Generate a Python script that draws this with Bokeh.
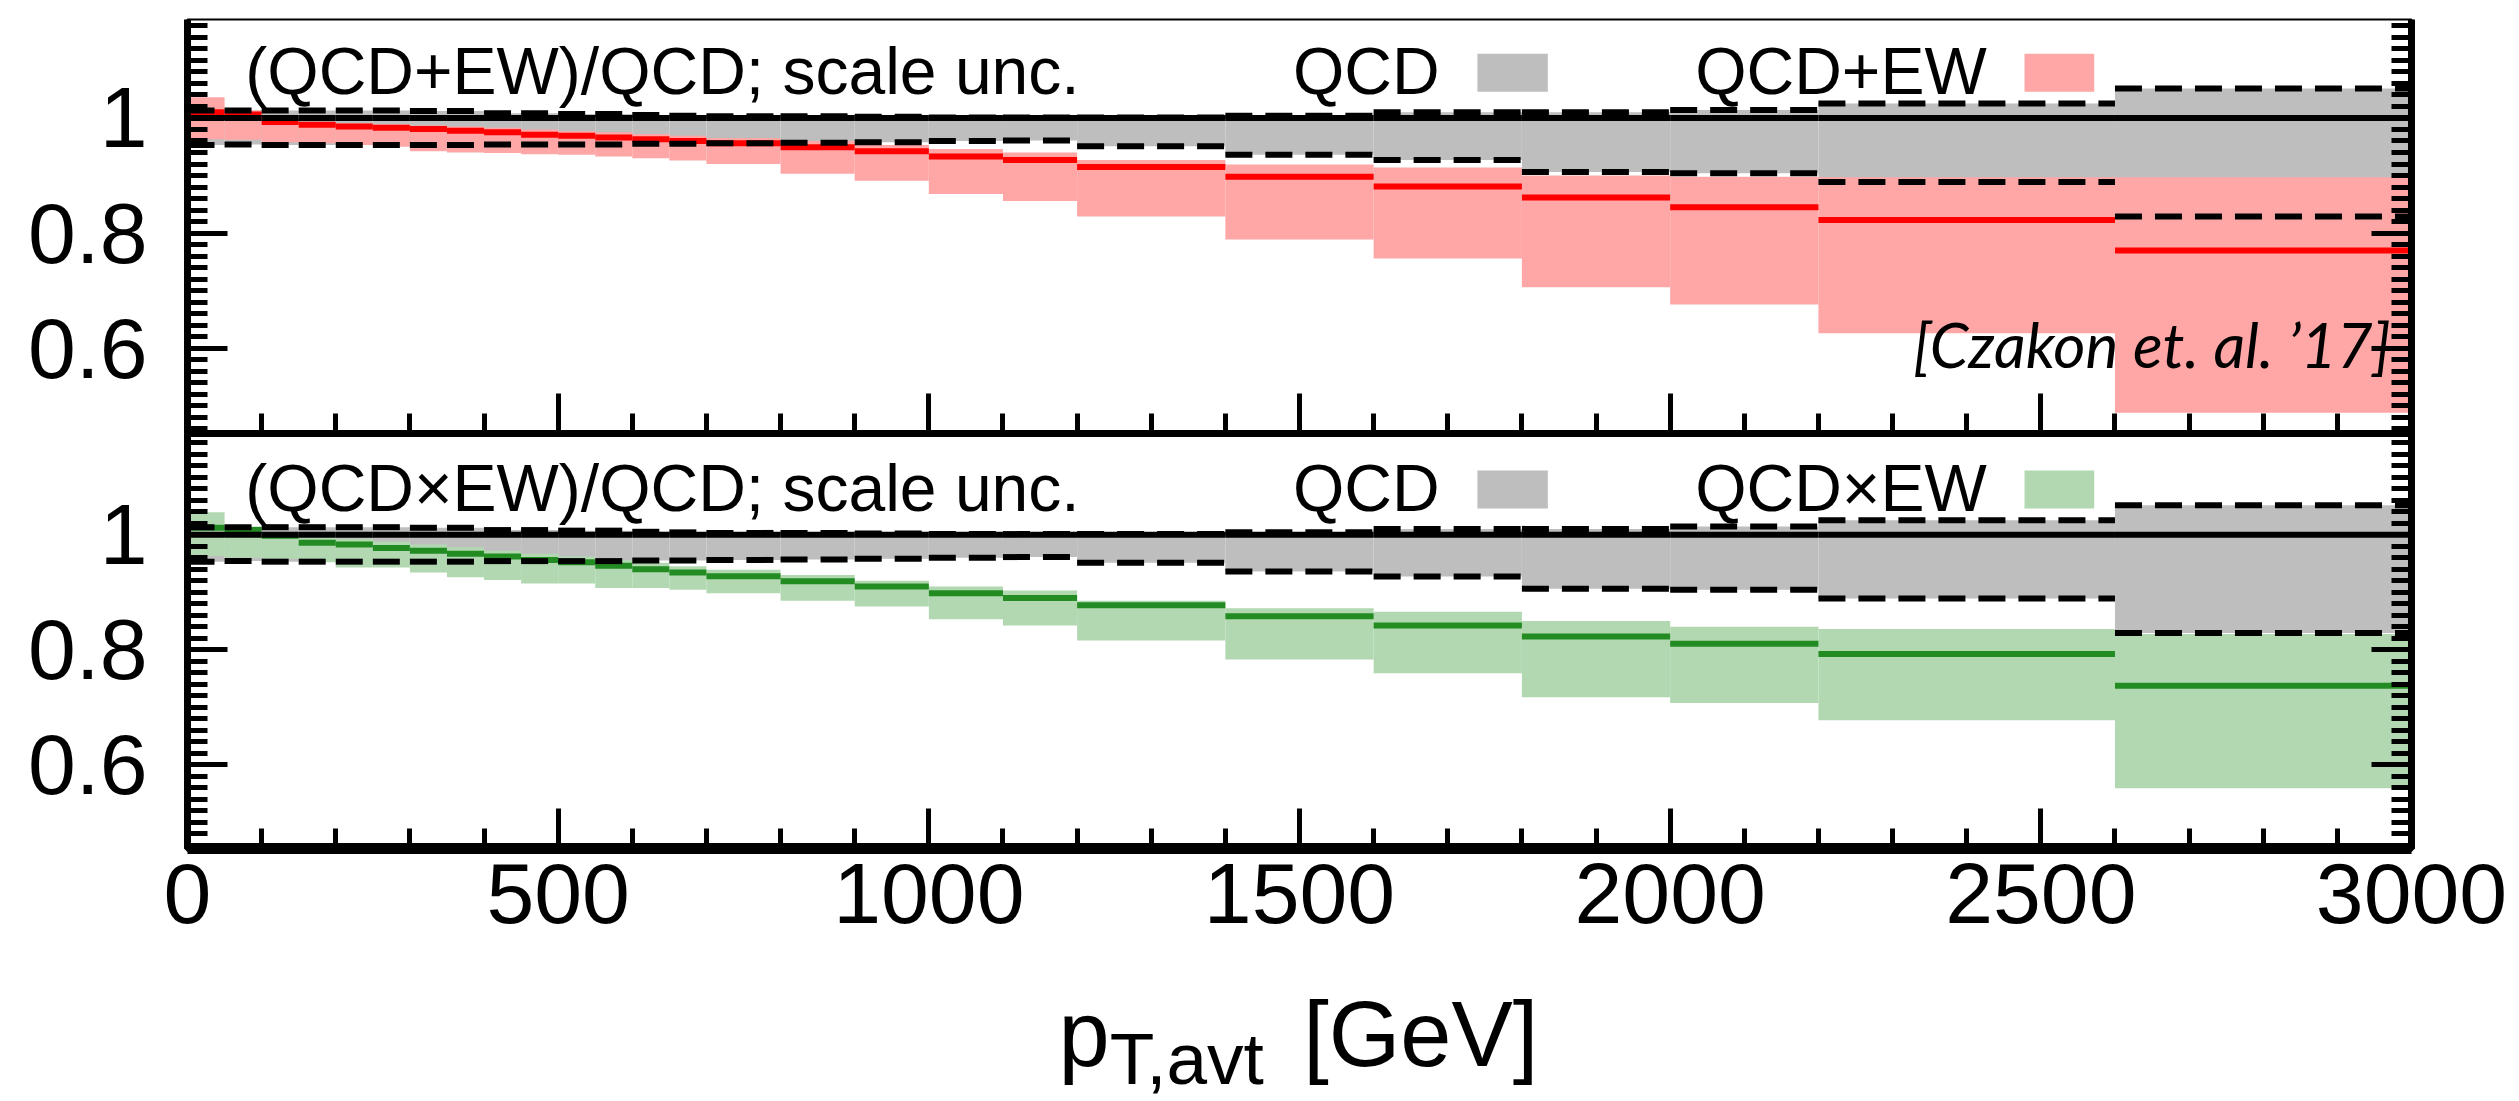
from bokeh.plotting import figure
from bokeh.models import (Range1d, LinearAxis, SingleIntervalTicker, PrintfTickFormatter,
                          Label, BoxAnnotation, CustomLabelingPolicy)
from bokeh.layouts import column
from bokeh.embed import file_html
from bokeh.resources import INLINE

# ---------------- data ----------------
bin_edges = [0, 50, 100, 150, 200, 250, 300, 350, 400, 450, 500, 550, 600, 650, 700,
             800, 900, 1000, 1100, 1200, 1400, 1600, 1800, 2000, 2200, 2600, 3000]

# QCD scale band (ratio to QCD central), identical in both panels
qcd_central = [1.0, 1.0, 1.0, 1.0, 1.0, 1.0, 1.0, 1.0, 1.0, 1.0, 1.0, 1.0, 1.0,
               1.0, 1.0, 1.0, 1.0, 1.0, 1.0, 1.0, 1.0, 1.0, 1.0, 1.0, 1.0, 1.0]
qcd_up = [1.013, 1.013, 1.013, 1.013, 1.013, 1.013, 1.012, 1.012, 1.008, 1.008, 1.007, 1.007, 1.005,
          1.004, 1.003, 1.003, 1.002, 1.001, 1.001, 1.001, 1.004, 1.010, 1.010, 1.014, 1.025, 1.051]
qcd_lo = [0.953, 0.954, 0.953, 0.953, 0.953, 0.953, 0.953, 0.953, 0.954, 0.954, 0.954, 0.954, 0.955,
          0.955, 0.956, 0.957, 0.958, 0.960, 0.961, 0.951, 0.936, 0.927, 0.906, 0.904, 0.889, 0.829]

# (QCD+EW)/QCD
add_central = [1.010, 1.006, 0.993, 0.988, 0.985, 0.983, 0.981, 0.978, 0.975, 0.971, 0.969, 0.966, 0.963,
               0.960, 0.956, 0.949, 0.942, 0.933, 0.927, 0.915, 0.898, 0.881, 0.862, 0.845, 0.823, 0.770]
add_up = [1.036, 1.013, 0.998, 0.993, 0.991, 0.989, 0.987, 0.985, 0.983, 0.980, 0.977, 0.975, 0.972,
          0.969, 0.965, 0.960, 0.953, 0.946, 0.940, 0.927, 0.919, 0.914, 0.900, 0.898, 0.897, 0.897]
add_lo = [0.963, 0.962, 0.958, 0.956, 0.953, 0.950, 0.942, 0.940, 0.939, 0.937, 0.936, 0.933, 0.930,
          0.926, 0.920, 0.903, 0.891, 0.868, 0.856, 0.829, 0.789, 0.756, 0.706, 0.676, 0.626, 0.488]

# (QCDxEW)/QCD
mul_central = [1.012, 1.008, 0.998, 0.986, 0.983, 0.977, 0.972, 0.967, 0.962, 0.956, 0.952, 0.946, 0.940,
               0.934, 0.9275, 0.919, 0.910, 0.898, 0.890, 0.877, 0.858, 0.842, 0.823, 0.810, 0.7925, 0.737]
mul_up = [1.039, 1.014, 1.000, 0.995, 0.993, 0.988, 0.983, 0.978, 0.972, 0.967, 0.962, 0.956, 0.951,
          0.945, 0.939, 0.930, 0.920, 0.910, 0.903, 0.885, 0.872, 0.866, 0.850, 0.840, 0.836, 0.827]
mul_lo = [0.963, 0.960, 0.958, 0.952, 0.943, 0.943, 0.934, 0.926, 0.921, 0.915, 0.915, 0.907, 0.907,
          0.904, 0.898, 0.885, 0.875, 0.853, 0.842, 0.816, 0.783, 0.759, 0.717, 0.707, 0.677, 0.559]

x_ticks_major = 500
y_ticks_major = 0.2

# ---------------- styling ----------------
FONT = "Liberation Sans"
GREY = "#bebebe"
PINK = "#ffa6a6"
RED = "#ff0000"
LGREEN = "#b2d8b2"
GREEN = "#228b22"

FRAME_W = 2224
LEFT = 187
RIGHT = 108

bin_left = bin_edges[:-1]
bin_right = bin_edges[1:]

NO_LABELS = "for (const i of Array.from(indices)) { indices.unset(i) }\nreturn indices"


def style_axis(ax, lw, labels, standoff=0):
    ax.axis_line_width = lw
    ax.axis_line_color = "black"
    ax.major_tick_in = 40
    ax.major_tick_out = 0
    ax.minor_tick_in = 20
    ax.minor_tick_out = 0
    ax.major_tick_line_width = 5
    ax.minor_tick_line_width = 5
    ax.major_tick_line_color = "black"
    ax.minor_tick_line_color = "black"
    ax.major_label_text_font = FONT
    ax.major_label_text_color = "black"
    if labels:
        ax.major_label_text_font_size = "86px"
        ax.major_label_standoff = standoff
    else:
        ax.major_label_text_font_size = "0px"
        ax.major_label_standoff = 0
        ax.major_label_policy = CustomLabelingPolicy(code=NO_LABELS)


def make_panel(frame_h, yr, central, up, lo, fill, line, title, legend_name,
               top_border, bottom_border, outline_w, x_labels, bottom_lw, text_y):
    p = figure(frame_width=FRAME_W, frame_height=frame_h,
               x_range=Range1d(0, 3000), y_range=Range1d(*yr),
               x_axis_location=None, y_axis_location=None,
               output_backend="svg", toolbar_location=None,
               min_border_left=LEFT, min_border_right=RIGHT,
               min_border_top=top_border, min_border_bottom=bottom_border,
               background_fill_color="white", border_fill_color="white")
    p.outline_line_color = "black"
    p.outline_line_width = outline_w
    p.grid.visible = False

    for side in ("left", "right"):
        ax = LinearAxis(ticker=SingleIntervalTicker(interval=y_ticks_major, num_minor_ticks=10),
                        formatter=PrintfTickFormatter(format="%.3g"))
        style_axis(ax, 7, side == "left", standoff=40)
        p.add_layout(ax, side)
    xa = LinearAxis(ticker=SingleIntervalTicker(interval=x_ticks_major, num_minor_ticks=5))
    style_axis(xa, bottom_lw, x_labels, standoff=15)
    p.add_layout(xa, "below")

    # bands
    p.quad(left=bin_left, right=bin_right, bottom=qcd_lo, top=qcd_up,
           fill_color=GREY, line_color=None)
    p.quad(left=bin_left, right=bin_right, bottom=lo, top=up,
           fill_color=fill, line_color=None)
    # central values
    p.segment(x0=bin_left, x1=bin_right, y0=central, y1=central,
              line_color=line, line_width=6)
    p.segment(x0=bin_left, x1=bin_right, y0=qcd_central, y1=qcd_central,
              line_color="black", line_width=6)
    # QCD scale-band edges
    for edge in (qcd_up, qcd_lo):
        p.segment(x0=bin_left, x1=bin_right, y0=edge, y1=edge,
                  line_color="black", line_width=6, line_dash="27 13")

    # annotation texts and key
    common = dict(text_font=FONT, text_font_size="66px", text_color="black",
                  text_baseline="middle")
    p.add_layout(Label(x=78, y=text_y, text=title, text_align="left", **common))
    p.add_layout(Label(x=1689, y=text_y, text="QCD", text_align="right", **common))
    p.add_layout(BoxAnnotation(left=1740, right=1835, bottom=1.0456, top=1.1116,
                               fill_color=GREY, fill_alpha=1.0, line_color=None))
    p.add_layout(Label(x=2427, y=text_y, text=legend_name, text_align="right", **common))
    p.add_layout(BoxAnnotation(left=2478, right=2572, bottom=1.0456, top=1.1116,
                               fill_color=fill, fill_alpha=1.0, line_color=None))
    return p


top = make_panel(414, (0.452, 1.171), add_central, add_up, add_lo, PINK, RED,
                 "(QCD+EW)/QCD; scale unc.", "QCD+EW",
                 top_border=19, bottom_border=0, outline_w=2, x_labels=False, bottom_lw=7,
                 text_y=1.081)
top.add_layout(Label(x=2972, y=0.607, text="[Czakon et. al. \u201917]", text_font="Lato",
                     text_font_style="italic", text_font_size="62px", text_color="black",
                     text_baseline="middle", text_align="right"))

bot = make_panel(415, (0.454, 1.176), mul_central, mul_up, mul_lo, LGREEN, GREEN,
                 "(QCD\u00d7EW)/QCD; scale unc.", "QCD\u00d7EW",
                 top_border=0, bottom_border=130, outline_w=7, x_labels=True, bottom_lw=11,
                 text_y=1.082)

# x-axis title with subscript, in a blank strip sharing the panels' x scale
XL_H = 123
xl = figure(frame_width=FRAME_W, frame_height=XL_H,
            x_range=Range1d(0, 3000), y_range=Range1d(0, XL_H),
            x_axis_location=None, y_axis_location=None,
            output_backend="svg", toolbar_location=None,
            min_border_left=LEFT, min_border_right=RIGHT, min_border_top=0, min_border_bottom=0,
            outline_line_color=None,
            background_fill_color="white", border_fill_color="white")
xl.grid.visible = False
xl.add_layout(Label(x=1175, y=68, text="p", text_font=FONT, text_font_size="92px",
                    text_color="black", text_baseline="middle", text_align="left"))
xl.add_layout(Label(x=1244, y=43, text="T,avt", text_font=FONT, text_font_size="73px",
                    text_color="black", text_baseline="middle", text_align="left"))
xl.add_layout(Label(x=1505, y=68, text="[GeV]", text_font=FONT, text_font_size="92px",
                    text_color="black", text_baseline="middle", text_align="left"))

layout = column(top, bot, xl, spacing=0)

with open("out.html", "w") as f:
    f.write(file_html(layout, INLINE))
